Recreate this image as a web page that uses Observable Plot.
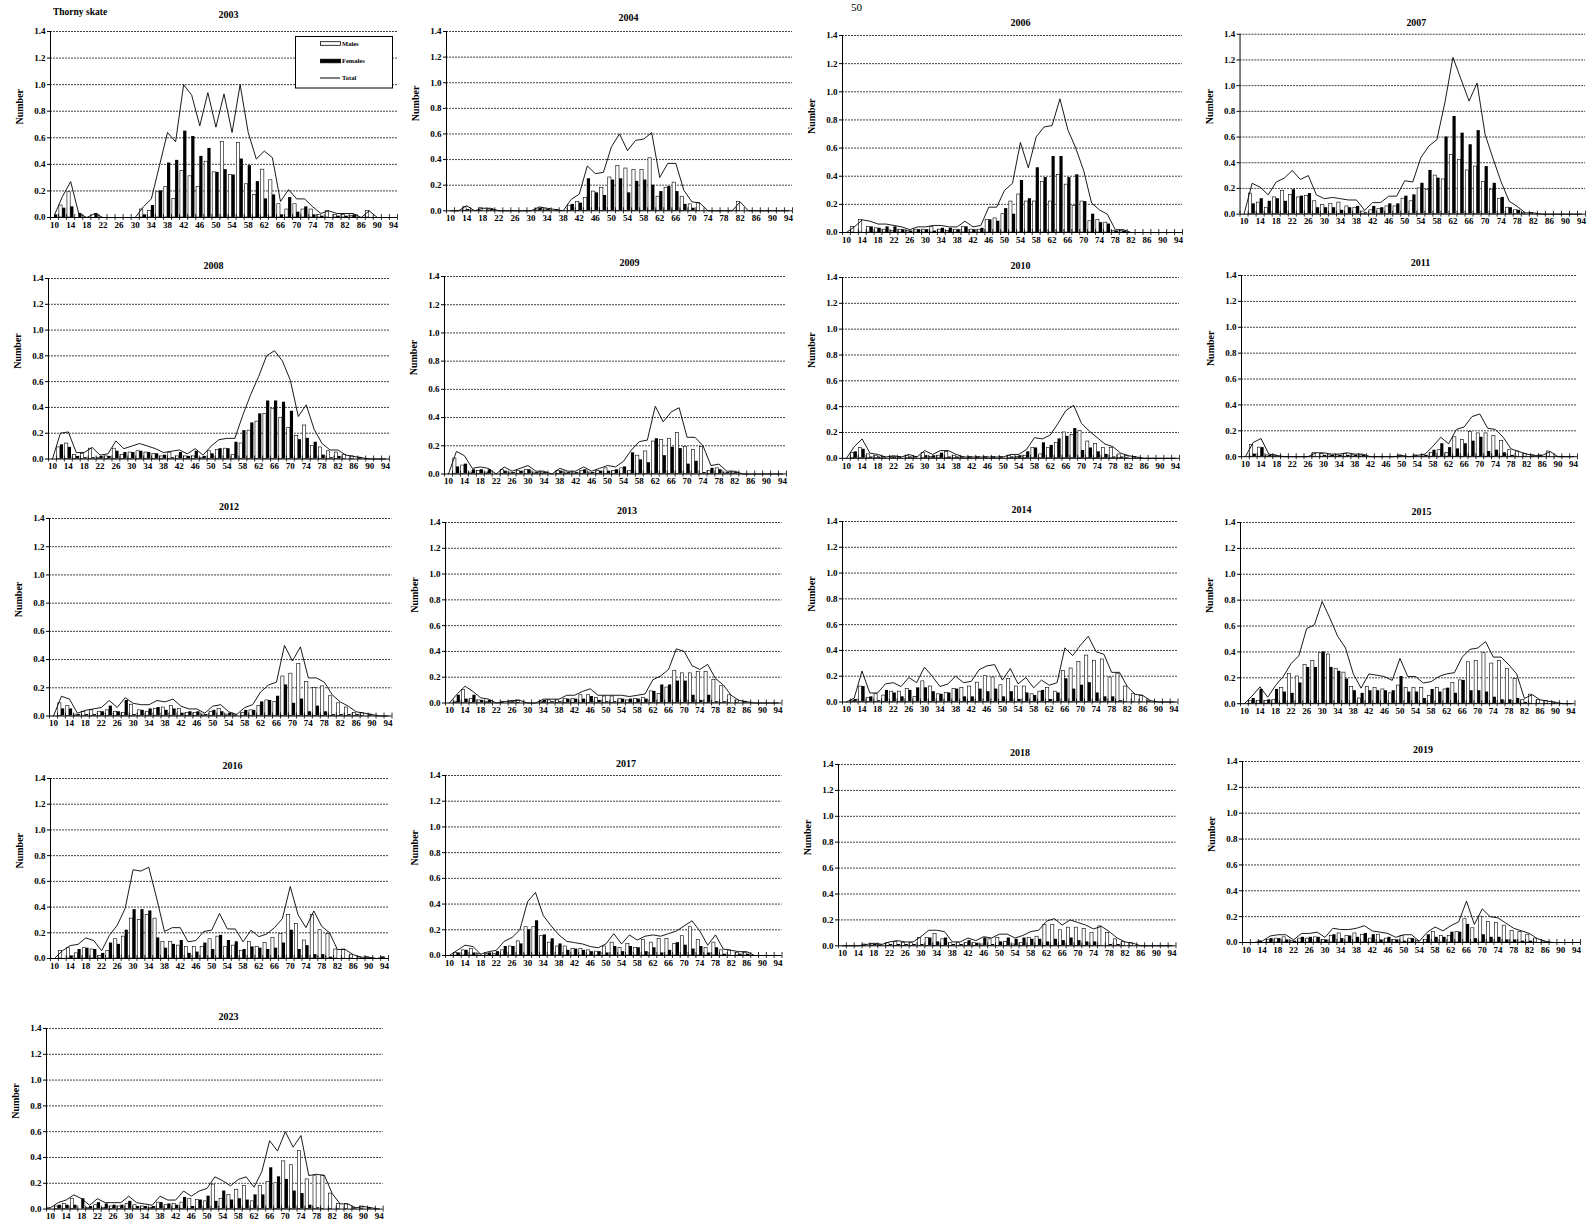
<!DOCTYPE html>
<html>
<head>
<meta charset="utf-8">
<script src="https://cdn.jsdelivr.net/npm/d3@7"></script>
<script src="https://cdn.jsdelivr.net/npm/@observablehq/plot@0.6"></script>
<style>
  body { margin: 0; background: #fff; }
  #page { position: relative; width: 1591px; height: 1230px; overflow: hidden; background: #fff;
          font-family: "Liberation Serif", "Times New Roman", serif; }
  .panel { position: absolute; }
  .panel svg { overflow: visible; }
  .note { position: absolute; font-weight: bold; white-space: nowrap; }
</style>
</head>
<body>
<div id="page"></div>
<script>
// Length classes (cm), one bar pair per class
const classes = d3.range(10, 96, 2);
const xLabels = d3.range(10, 95, 4);
const yTicks = [0, 0.2, 0.4, 0.6, 0.8, 1.0, 1.2, 1.4];

// Mean number per tow by length class: males and females, per survey year
const m2003 = [0,0.09,0.19,0,0,0,0,0,0,0,0,0.06,0.05,0.19,0.23,0.14,0.35,0.31,0.23,0.42,0.34,0.57,0.32,0.56,0.25,0.17,0.36,0.28,0.10,0.06,0.10,0.06,0.06,0.02,0.05,0.02,0.02,0.01,0,0.05,0,0,0];
const f2003 = [0.02,0.07,0.08,0.03,0,0.03,0,0,0,0,0,0.02,0.09,0.20,0.41,0.43,0.65,0.61,0.46,0.52,0.34,0.36,0.32,0.44,0.39,0.27,0.14,0.17,0.02,0.15,0.04,0.08,0.02,0.01,0,0.01,0.01,0.02,0,0,0,0,0];
const m2004 = [0,0,0.03,0,0.02,0.01,0,0,0,0,0,0.01,0.01,0,0,0.04,0.07,0.10,0.15,0.18,0.26,0.35,0.33,0.32,0.32,0.41,0.11,0.18,0.22,0.11,0.05,0.06,0,0,0,0,0.07,0,0,0,0,0,0];
const f2004 = [0,0,0.01,0,0,0.01,0,0,0,0,0,0.02,0.01,0.01,0,0.05,0.06,0.25,0.14,0.12,0.24,0.25,0.14,0.23,0.24,0.20,0.15,0.19,0.15,0.05,0.02,0,0,0,0,0,0,0,0,0,0,0,0];
const m2006 = [0,0.04,0.09,0.04,0.03,0.02,0.01,0.02,0.01,0.02,0.02,0.04,0.02,0.01,0.02,0.04,0.02,0.02,0.09,0.10,0.13,0.22,0.27,0.22,0.22,0.36,0.22,0.41,0.34,0.19,0.22,0.08,0.09,0.07,0.01,0.01,0,0,0,0,0,0,0];
const f2006 = [0,0,0,0.04,0.03,0.04,0.04,0.02,0.01,0.02,0.02,0.01,0.03,0.03,0.02,0.04,0.02,0.03,0.09,0.08,0.17,0.13,0.37,0.24,0.46,0.39,0.54,0.54,0.39,0.41,0.22,0.13,0.07,0.06,0.01,0.01,0,0,0,0,0,0,0];
const m2007 = [0,0.16,0.09,0.05,0.13,0.18,0.15,0.13,0.14,0.10,0.07,0.08,0.09,0.06,0.05,0.02,0.03,0.04,0.06,0.06,0.12,0.10,0.20,0.19,0.30,0.27,0.46,0.42,0.34,0.37,0.25,0.19,0.12,0.05,0.03,0.01,0.01,0,0,0,0,0,0];
const f2007 = [0,0.08,0.12,0.10,0.12,0.10,0.19,0.14,0.16,0.05,0.05,0.05,0.03,0.05,0.06,0.01,0.06,0.05,0.08,0.08,0.14,0.15,0.24,0.34,0.28,0.60,0.76,0.63,0.54,0.65,0.37,0.24,0.13,0.05,0.03,0,0,0,0,0,0,0,0];
const m2008 = [0,0.09,0.12,0.03,0.04,0.08,0.01,0.02,0.08,0.03,0.05,0.06,0.05,0.04,0.02,0.05,0.02,0.02,0.02,0.01,0.06,0.07,0.08,0.03,0.12,0.22,0.29,0.35,0.39,0.32,0.24,0.18,0.26,0.10,0.09,0.06,0.05,0.03,0.02,0.01,0,0,0];
const f2008 = [0,0.11,0.09,0.02,0.01,0.01,0.02,0.02,0.06,0.05,0.05,0.06,0.05,0.04,0.03,0.01,0.05,0.02,0.06,0.02,0.04,0.08,0.08,0.13,0.22,0.28,0.35,0.45,0.45,0.44,0.37,0.15,0.16,0.13,0.03,0.01,0.02,0,0,0,0,0,0];
const m2009 = [0,0.11,0.06,0.01,0.02,0.01,0,0.03,0.01,0.02,0.03,0.01,0.01,0,0.02,0.01,0.01,0.02,0.01,0.02,0.04,0.02,0.04,0.02,0.13,0.16,0.23,0.24,0.25,0.29,0.19,0.17,0.19,0.02,0.04,0.01,0.01,0,0,0,0,0,0];
const f2009 = [0,0.05,0.07,0.03,0.03,0.03,0,0.02,0.01,0.02,0.03,0.01,0.01,0,0.02,0.01,0.01,0.03,0.01,0.02,0.02,0.03,0.05,0.15,0.10,0.08,0.25,0.13,0.19,0.18,0.07,0.09,0.01,0.04,0.03,0.01,0.01,0,0,0,0,0,0];
const m2010 = [0,0.04,0.08,0.03,0.02,0.01,0.01,0.01,0.02,0.01,0.04,0.01,0.02,0.05,0.02,0.01,0.01,0.01,0.01,0.01,0.01,0.02,0.01,0.02,0.08,0.03,0.08,0.12,0.20,0.18,0.21,0.13,0.11,0.08,0.08,0.03,0.02,0.01,0,0,0,0,0];
const f2010 = [0,0.05,0.07,0.01,0.01,0,0.01,0,0.01,0,0.02,0.02,0.04,0.01,0.01,0,0,0,0,0,0,0.01,0.02,0.05,0.08,0.12,0.10,0.15,0.17,0.23,0.06,0.08,0.05,0.03,0.01,0.01,0,0,0,0,0,0,0];
const m2011 = [0,0.09,0.07,0.01,0.01,0,0,0,0,0.03,0.02,0.01,0.01,0.02,0.01,0.01,0,0,0,0,0.01,0,0.01,0.01,0.03,0.05,0.03,0.15,0.13,0.19,0.18,0.18,0.16,0.12,0.05,0.04,0.02,0.01,0.01,0.04,0,0,0];
const f2011 = [0,0.02,0.07,0.01,0,0,0,0,0,0,0.01,0.01,0.01,0.01,0.01,0.01,0,0,0,0,0,0,0,0.01,0.05,0.10,0.07,0.06,0.10,0.12,0.15,0.04,0.05,0.03,0.01,0,0,0,0,0,0,0,0];
const m2012 = [0,0.09,0.07,0.01,0.03,0.04,0.03,0.04,0.03,0.02,0.08,0.04,0.03,0.05,0.06,0.07,0.05,0.02,0.02,0.01,0.03,0.05,0.01,0.01,0.02,0.04,0.07,0.11,0.10,0.28,0.30,0.37,0.24,0.20,0.21,0.14,0.09,0.06,0.02,0.02,0.01,0,0];
const f2012 = [0,0.05,0.05,0.01,0.01,0.01,0.03,0.07,0.03,0.11,0.01,0.04,0.05,0.06,0.04,0.05,0.02,0.03,0.03,0.01,0.04,0.03,0.02,0,0.04,0.04,0.10,0.11,0.14,0.22,0.09,0.12,0.03,0.07,0.03,0.01,0.01,0.01,0.01,0,0,0,0];
const m2013 = [0,0.01,0.10,0.03,0.02,0.01,0,0.01,0.01,0.02,0,0,0.01,0.02,0.02,0.03,0.03,0.06,0.06,0.04,0.05,0.05,0.03,0.02,0.03,0.04,0.09,0.07,0.12,0.25,0.23,0.23,0.24,0.24,0.18,0.13,0.06,0.02,0.01,0,0,0,0];
const f2013 = [0,0.06,0.03,0.06,0.02,0.02,0,0,0.01,0,0,0,0.02,0.01,0.01,0.03,0.03,0.03,0.05,0.02,0.01,0.01,0.03,0.03,0.03,0.03,0.09,0.14,0.14,0.17,0.17,0.06,0.02,0.06,0.01,0.01,0,0,0,0,0,0,0];
const m2014 = [0,0.01,0.12,0.03,0.06,0.05,0.08,0.08,0.10,0.04,0.16,0.12,0.06,0.07,0.10,0.11,0.12,0.15,0.20,0.19,0.13,0.18,0.12,0.12,0.06,0.08,0.11,0.08,0.24,0.26,0.31,0.36,0.32,0.33,0.19,0.22,0.12,0.06,0.05,0.01,0,0,0];
const f2014 = [0,0.02,0.12,0.04,0.01,0.09,0.07,0.04,0.09,0.11,0.11,0.08,0.06,0.07,0.10,0.04,0.04,0.10,0.08,0.10,0.04,0.08,0.02,0.07,0.05,0.09,0.02,0.07,0.18,0.10,0.13,0.15,0.07,0.04,0.04,0.01,0,0,0,0,0,0,0];
const m2015 = [0,0.02,0.02,0.02,0.03,0.12,0.23,0.21,0.30,0.33,0.39,0.38,0.27,0.24,0.13,0.04,0.13,0.12,0.11,0.08,0.14,0.12,0.12,0.12,0.06,0.12,0.11,0.16,0.18,0.32,0.33,0.39,0.31,0.33,0.27,0.19,0.03,0.07,0.03,0.02,0.01,0,0];
const f2015 = [0,0.04,0.11,0.03,0.11,0.09,0.08,0.16,0.28,0.28,0.40,0.28,0.25,0.19,0.10,0.08,0.10,0.10,0.10,0.10,0.21,0.09,0.09,0.04,0.11,0.09,0.12,0.08,0.18,0.10,0.10,0.09,0.05,0.03,0.03,0.04,0.01,0,0,0,0,0,0];
const m2016 = [0,0.06,0.08,0.04,0.08,0.07,0.02,0.06,0.15,0.17,0.31,0.30,0.34,0.31,0.13,0.13,0.10,0.09,0.09,0.09,0.15,0.17,0.09,0.10,0.06,0.13,0.09,0.12,0.16,0.19,0.34,0.27,0.14,0.34,0.22,0.19,0.07,0.07,0.03,0.01,0.01,0,0.01];
const f2016 = [0,0,0.02,0.07,0.08,0.07,0.04,0.12,0.11,0.22,0.38,0.38,0.37,0.16,0.08,0.11,0.14,0.04,0.05,0.12,0.07,0.18,0.14,0.13,0.07,0.09,0.08,0.07,0.08,0.12,0.22,0.07,0.10,0.03,0.03,0.01,0,0,0,0,0,0,0];
const m2017 = [0,0.02,0.04,0.05,0.01,0.01,0.01,0.04,0.07,0.11,0.22,0.22,0.15,0.10,0.07,0.07,0.05,0.05,0.04,0.03,0.07,0.10,0.06,0.09,0.06,0.12,0.10,0.13,0.13,0.09,0.15,0.22,0.12,0.06,0.10,0.04,0.04,0.02,0.02,0,0,0,0];
const f2017 = [0,0.02,0.04,0.02,0,0.02,0.03,0.07,0.07,0.09,0.20,0.27,0.16,0.13,0.09,0.04,0.05,0.04,0.03,0.03,0.02,0.07,0.03,0.07,0.06,0.03,0.06,0.02,0.04,0.10,0.08,0.05,0.07,0.02,0.06,0.01,0,0.01,0.01,0,0,0,0];
const m2018 = [0,0,0,0.01,0.01,0.01,0.02,0.03,0.02,0.02,0.06,0.06,0.09,0.05,0.02,0.02,0.02,0.02,0.01,0.05,0.06,0.03,0.01,0.02,0.06,0.07,0.16,0.16,0.12,0.14,0.14,0.13,0.10,0.15,0.10,0.05,0.03,0.02,0,0,0,0,0];
const f2018 = [0,0,0,0,0.01,0,0.01,0.01,0.01,0.01,0.01,0.06,0.03,0.06,0.01,0.01,0.04,0.02,0.06,0.01,0.03,0.06,0.05,0.06,0.05,0.05,0.03,0.05,0.04,0.06,0.04,0.03,0.03,0,0.01,0.01,0,0,0,0,0,0,0];
const m2019 = [0,0,0.01,0.02,0.03,0.04,0.01,0.03,0.03,0.04,0.02,0.05,0.07,0.05,0.07,0.06,0.03,0.06,0.03,0.02,0.05,0.03,0.01,0.02,0.08,0.05,0.05,0.08,0.18,0.11,0.20,0.16,0.15,0.13,0.09,0.08,0.06,0.03,0.01,0,0,0,0];
const f2019 = [0,0,0,0.03,0.03,0.02,0.01,0.04,0.04,0.04,0.02,0.06,0.03,0.05,0.04,0.07,0.06,0.02,0.04,0.02,0.01,0.03,0,0.06,0.04,0.04,0.08,0.08,0.14,0.03,0.06,0.04,0.04,0.02,0.02,0.01,0.01,0,0,0,0,0,0];
const m2023 = [0.01,0.02,0.04,0.08,0,0.01,0.03,0.01,0.02,0.02,0.04,0.03,0.02,0.01,0.05,0.03,0.04,0.05,0.08,0.07,0.06,0.19,0.08,0.11,0.15,0.18,0.06,0.18,0.21,0.20,0.37,0.34,0.45,0.23,0.26,0.26,0.12,0.04,0.04,0.01,0.02,0.01,0];
const f2023 = [0,0.03,0.03,0.03,0.08,0.02,0.05,0.04,0.03,0.03,0.06,0.02,0.02,0.02,0.05,0.04,0.03,0.09,0.02,0.07,0.10,0.06,0.14,0.07,0.08,0.07,0.11,0.11,0.32,0.25,0.23,0.14,0.12,0.03,0.01,0,0,0,0,0,0,0,0];

const years = ["2003","2004","2006","2007","2008","2009","2010","2011","2012","2013","2014","2015","2016","2017","2018","2019","2023"];
const males   = [m2003,m2004,m2006,m2007,m2008,m2009,m2010,m2011,m2012,m2013,m2014,m2015,m2016,m2017,m2018,m2019,m2023];
const females = [f2003,f2004,f2006,f2007,f2008,f2009,f2010,f2011,f2012,f2013,f2014,f2015,f2016,f2017,f2018,f2019,f2023];

// Page placement of each panel's plotting frame: left, right, top (1.4), bottom (0.0), title centre x, title gap
const layout = [
  [50, 397, 30.7, 216.7, 228, 17],
  [446, 792, 30.7, 210, 628, 14],
  [842, 1182, 35, 232, 1020, 13],
  [1240, 1589, 34.3, 216, 1418, 12],
  [48, 389, 277.5, 458, 213, 13],
  [444, 786, 275.5, 473, 629, 14],
  [842, 1179, 276.5, 457.3, 1020, 12],
  [1241, 1577, 274.5, 455.7, 1420, 13],
  [48.5, 391, 518, 715.5, 228, 12],
  [444.5, 781, 521.5, 702, 626, 12],
  [842, 1177.5, 521, 701.5, 1021, 12],
  [1240, 1574.5, 521.5, 702.7, 1421, 11],
  [50, 388, 778, 958, 232, 13],
  [444.5, 781, 775, 955, 625, 12],
  [837.5, 1175, 764, 945.3, 1019, 12],
  [1241.5, 1579.5, 761.3, 942.3, 1422, 12],
  [46, 382.7, 1027.7, 1208.3, 228, 12]
];

const page = document.getElementById("page");
const boundaries = d3.range(9, 96, 2);
const font = '"Liberation Serif", "Times New Roman", serif';

function drawPanel(k) {
  const [left, right, top, bottom, titleX, titleGap] = layout[k];
  const mL = 46, mR = 6, mT = 24, mB = 18;
  const plotW = right - left, plotH = bottom - top;
  const rows = classes.map((c, i) => ({
    cls: c, male: males[k][i], female: females[k][i], total: males[k][i] + females[k][i]
  }));
  const tick = 3 * 1.4 / plotH;
  const chart = Plot.plot({
    width: plotW + mL + mR,
    height: plotH + mT + mB,
    marginLeft: mL, marginRight: mR, marginTop: mT, marginBottom: mB,
    x: {domain: [9, 95]},
    y: {domain: [0, 1.4]},
    style: {fontFamily: font, fontSize: "9px", fontWeight: "bold", color: "black", background: "none", overflow: "visible"},
    marks: [
      Plot.ruleY(yTicks.slice(1), {stroke: "black", strokeWidth: 0.75, strokeDasharray: "2,1"}),
      Plot.rect(rows.filter(d => d.male > 0), {
        x1: d => d.cls - 0.8, x2: d => d.cls, y1: () => 0, y2: d => d.male,
        fill: "white", stroke: "black", strokeWidth: 0.6
      }),
      Plot.rect(rows.filter(d => d.female > 0), {
        x1: d => d.cls, x2: d => d.cls + 0.8, y1: () => 0, y2: d => d.female,
        fill: "black"
      }),
      Plot.line(rows, {x: "cls", y: "total", stroke: "black", strokeWidth: 0.9}),
      Plot.ruleY([0], {stroke: "black", strokeWidth: 1}),
      Plot.ruleX([9], {stroke: "black", strokeWidth: 1}),
      Plot.ruleX(boundaries, {x: d => d, y1: () => -tick, y2: () => tick, stroke: "black", strokeWidth: 0.8}),
      Plot.axisY({ticks: yTicks, tickFormat: d3.format(".1f"), tickSize: 3, tickPadding: 2, label: null}),
      Plot.axisX({ticks: xLabels, tickFormat: d => String(d), tickSize: 0, tickPadding: 4, label: null}),
      Plot.text(["Number"], {frameAnchor: "left", rotate: -90, dx: -31, fontSize: 10}),
      Plot.text([years[k]], {frameAnchor: "top", lineAnchor: "middle", dy: -titleGap, dx: titleX - (left + right) / 2, fontSize: 10})
    ]
  });
  const div = document.createElement("div");
  div.className = "panel";
  div.style.left = (left - mL) + "px";
  div.style.top = (top - mT) + "px";
  div.appendChild(chart);
  page.appendChild(div);
}

years.forEach((_, k) => drawPanel(k));

// Species name and page number
const species = document.createElement("div");
species.className = "note";
species.style.cssText += "left:53px;top:7px;font-size:9.5px;";
species.textContent = "Thorny skate";
page.appendChild(species);

const pageNo = document.createElement("div");
pageNo.style.cssText = "position:absolute;left:851px;top:2px;font-size:11px;line-height:11px;font-family:" + font + ";";
pageNo.textContent = "50";
page.appendChild(pageNo);

// Legend box in the first panel
const legend = d3.select(page).append("svg")
  .attr("width", 98).attr("height", 53)
  .style("position", "absolute").style("left", "294.5px").style("top", "35.5px")
  .style("font-family", font).style("font-weight", "bold").style("font-size", "6.5px");
legend.append("rect").attr("x", 0.5).attr("y", 0.5).attr("width", 97).attr("height", 51.5)
  .attr("fill", "white").attr("stroke", "black").attr("stroke-width", 1);
const entries = [
  {label: "Males", y: 7.5, kind: "male"},
  {label: "Females", y: 25, kind: "female"},
  {label: "Total", y: 42, kind: "total"}
];
entries.forEach(e => {
  if (e.kind === "total") {
    legend.append("line").attr("x1", 25).attr("x2", 45).attr("y1", e.y).attr("y2", e.y)
      .attr("stroke", "black").attr("stroke-width", 1);
  } else {
    legend.append("rect").attr("x", 25.5).attr("y", e.y - 1.8).attr("width", 20).attr("height", 3.6)
      .attr("fill", e.kind === "male" ? "white" : "black").attr("stroke", "black").attr("stroke-width", 0.8);
  }
  legend.append("text").attr("x", 47).attr("y", e.y).attr("dy", "0.35em").text(e.label);
});
</script>
</body>
</html>
